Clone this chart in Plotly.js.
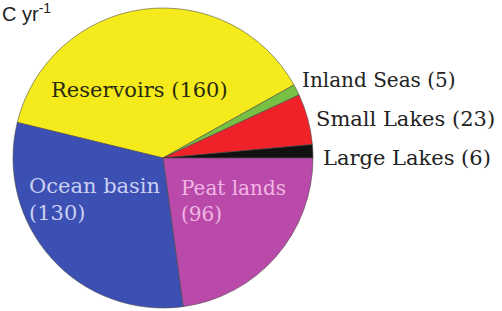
<!DOCTYPE html>
<html>
<head>
<meta charset="utf-8">
<script src="https://cdn.plot.ly/plotly-3.0.1.min.js"></script>
<style>html,body{margin:0;padding:0;background:#fff;}#chart{width:502px;height:311px;}</style>
</head>
<body>
<div id="chart"></div>
<script>
// Data
const labels = ['Reservoirs', 'Inland Seas', 'Small Lakes', 'Large Lakes', 'Peat lands', 'Ocean basin'];
const values = [160, 5, 23, 6, 96, 130];
const colors = ['#f4ea1c', '#78c043', '#ee2228', '#111111', '#b94aaa', '#3c4fb2'];
const unitText = 'C yr<sup>-1</sup>';

const total = values.reduce((a, b) => a + b, 0);
const peatIdx = labels.indexOf('Peat lands');
const before = values.slice(0, peatIdx).reduce((a, b) => a + b, 0);
const rotation = 90 - before / total * 360;

const W = 502, H = 311;
const px = x => x / W;
const py = y => 1 - y / H;

const serif = 'DejaVu Serif';
function lab(i) { return labels[i] + ' (' + values[i] + ')'; }
function lab2(i) { return labels[i] + '<br>(' + values[i] + ')'; }

const annotations = [
  {text: lab(0), x: px(139), y: py(90), xanchor: 'center', yanchor: 'middle', font: {family: serif, size: 21, color: '#2a2a10'}},
  {text: lab2(5), x: px(27), y: py(199), xanchor: 'left', yanchor: 'middle', align: 'left', font: {family: serif, size: 21, color: '#c9d0f2'}},
  {text: lab2(4), x: px(179), y: py(201), xanchor: 'left', yanchor: 'middle', align: 'left', font: {family: serif, size: 20, color: '#f2b6e4'}},
  {text: lab(1), x: px(300), y: py(80), xanchor: 'left', yanchor: 'middle', font: {family: serif, size: 20, color: '#222'}},
  {text: lab(2), x: px(314), y: py(119), xanchor: 'left', yanchor: 'middle', font: {family: serif, size: 21, color: '#222'}},
  {text: lab(3), x: px(321), y: py(158), xanchor: 'left', yanchor: 'middle', font: {family: serif, size: 21, color: '#222'}},
  {text: unitText, x: 0, y: 1, xanchor: 'left', yanchor: 'top', yshift: 2, font: {family: 'Liberation Sans', size: 20, color: '#222'}}
].map(a => Object.assign({xref: 'paper', yref: 'paper', showarrow: false}, a));

const trace = {
  type: 'pie',
  labels: labels,
  values: values,
  sort: false,
  direction: 'clockwise',
  rotation: rotation,
  textinfo: 'none',
  hoverinfo: 'none',
  marker: {colors: colors, line: {color: 'rgba(70,70,70,0.55)', width: 1}},
  domain: {x: [px(13), px(313)], y: [py(308), py(8)]}
};

Plotly.newPlot('chart', [trace], {
  width: W, height: H,
  margin: {l: 0, r: 0, t: 0, b: 0},
  showlegend: false,
  paper_bgcolor: '#fff',
  annotations: annotations
}, {displayModeBar: false, staticPlot: true});
</script>
</body>
</html>
